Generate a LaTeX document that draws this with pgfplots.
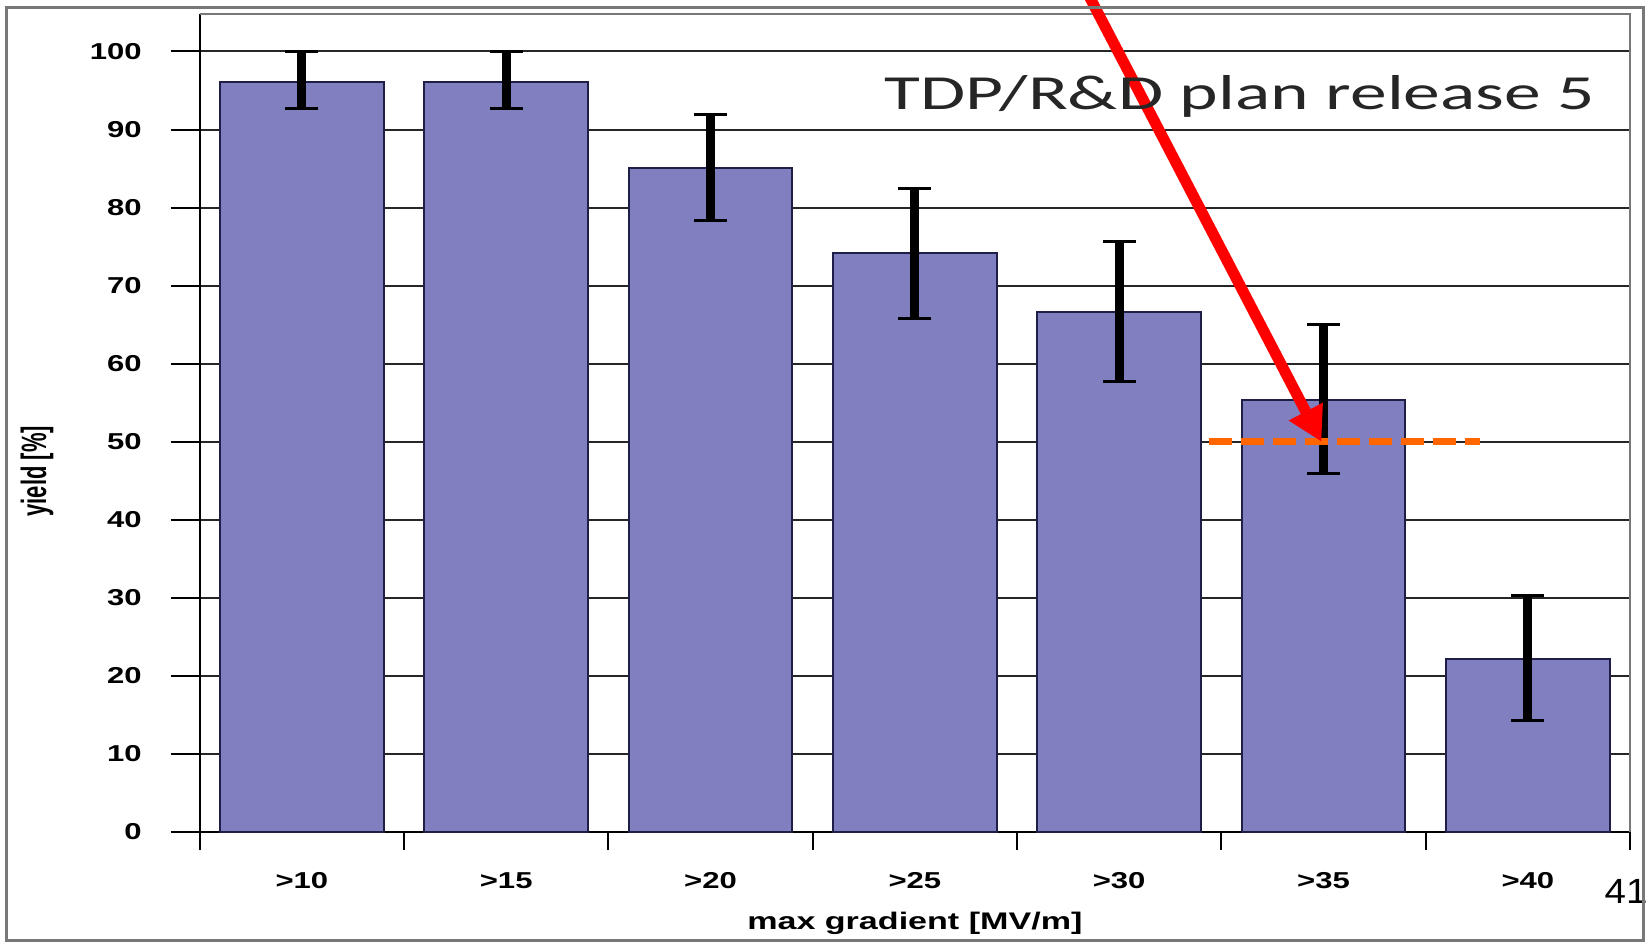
\documentclass[border=0pt]{standalone}
\usepackage{pgfplots}
\pgfplotsset{compat=1.18}
\usepackage{pgfplotstable}
\usepackage{graphicx}
\usepackage{fontspec}
\usetikzlibrary{arrows.meta}
\setmainfont{Liberation Sans}
\newfontfamily\chartfont[FakeStretch=1.35]{Liberation Sans Bold}
\newfontfamily\xlabfont[FakeStretch=1.42]{Liberation Sans Bold}
\newfontfamily\ylabfont{Liberation Sans Bold}
\newfontfamily\notefont[FakeStretch=1.5]{Carlito}
\newfontfamily\numfont[FakeStretch=1.1]{Liberation Sans}
\definecolor{barfill}{RGB}{128,128,192}
\definecolor{baredge}{RGB}{30,30,70}
\definecolor{orangeline}{RGB}{255,102,0}
\definecolor{framegray}{RGB}{120,120,120}
\pgfplotstableread{
x y ep em
0 96.1 3.9 3.4
1 96.1 3.9 3.4
2 85.1 6.8 6.8
3 74.2 8.2 8.4
4 66.6 9.0 8.9
5 55.4 9.6 9.5
6 22.2 8.1 7.9
}\yielddata
\begin{document}
\begin{tikzpicture}
\begin{axis}[
  at={(0,0)}, anchor=south west,
  scale only axis, width=715.15pt, height=409pt,
  xmin=-0.5, xmax=6.5, ymin=0, ymax=104.8,
  clip=false,
  axis x line*=bottom, axis y line*=left,
  axis line style={-, black, line width=1pt},
  tick align=outside,
  /pgf/number format/assume math mode=true,
  ytick={0,10,...,100},
  ymajorgrids,
  grid style={black!85, line width=1pt},
  major tick length=14.5pt,
  minor tick length=9pt,
  y tick style={black, line width=1pt},
  xtick={0,...,6},
  xticklabels={>10,>15,>20,>25,>30,>35,>40},
  x tick style={draw=none},
  minor xtick={-0.5,0.5,...,6.5},
  minor x tick style={draw=black, line width=1pt},
  yticklabel style={font=\chartfont\fontsize{11.5pt}{13pt}\selectfont, anchor=east, xshift=-11pt},
  xticklabel style={font=\chartfont\fontsize{11.5pt}{13pt}\selectfont, anchor=center, yshift=-10pt},
  xlabel={max gradient [MV/m]},
  ylabel={\scalebox{1}[1.6]{yield [\%]}},
  every axis x label/.style={at={(axis description cs:0.5,-0.1198)}, anchor=base, font=\xlabfont\fontsize{12pt}{14pt}\selectfont},
  every axis y label/.style={at={(axis description cs:-0.11375,0.441)}, anchor=center, rotate=90, font=\ylabfont\fontsize{11pt}{13pt}\selectfont},
  ybar, bar width=0.8,
]
\addplot[ybar, fill=barfill, draw=baredge, line width=1pt,
  error bars/.cd, y dir=both, y explicit,
  error bar style={line width=4.5pt, black},
  error mark options={rotate=90, line width=1.5pt, mark size=8.25pt, black}]
  table[x=x, y=y, y error plus=ep, y error minus=em] {\yielddata};
\draw[framegray, line width=1pt] (rel axis cs:0,1) -- (rel axis cs:1,1) -- (rel axis cs:1,0);
\addplot[sharp plot, orangeline, line width=3.5pt, dash pattern=on 11.5pt off 4.5pt] coordinates {(4.438,50) (5.766,50)};
\addplot[sharp plot, red, line width=5.5pt, -{Triangle[length=17pt, width=18pt]}] coordinates {(3.795,110) (4.99,50)};
\node[anchor=base east, inner sep=0pt, font=\notefont\fontsize{24.5pt}{28pt}\selectfont, text=black!85] at (axis cs:6.33,92.5) {TDP/R\&D plan release 5};
\node[anchor=base west, inner sep=0pt, font=\numfont\fontsize{17.5pt}{20pt}\selectfont] at (axis cs:6.374,-9.1) {41};
\end{axis}
\draw[framegray, line width=1.5pt] (-96.35pt,-54pt) rectangle (721.65pt,412pt);
\pgfresetboundingbox
\path[use as bounding box] (-99.85pt,-55pt) rectangle (724.15pt,416pt);
\end{tikzpicture}
\end{document}
